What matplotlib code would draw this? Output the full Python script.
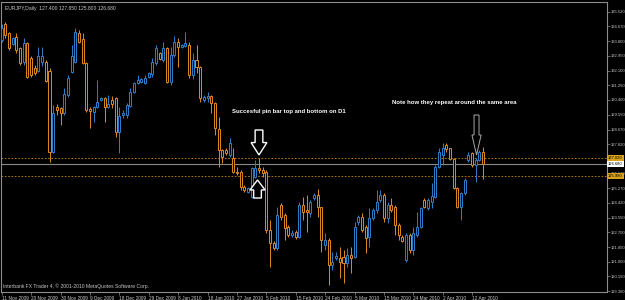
import matplotlib
matplotlib.use("Agg")
import matplotlib.pyplot as plt
from matplotlib.patches import FancyArrow

plt.rcParams['font.family'] = ['Liberation Sans', 'DejaVu Sans']

# EURJPY daily candles (MT4, sunday bars included), first bar = 11 Nov 2009
opens = [133.88, 134.81, 134.28, 133.64, 134.05, 133.41, 132.60, 133.70, 132.83, 132.25,
         132.08, 132.60, 132.60, 132.08, 127.37, 129.99, 129.93, 129.64, 130.68, 132.02,
         132.60, 134.28, 133.93, 132.54, 129.87, 129.70, 129.99, 130.39, 130.51, 129.99,
         130.39, 130.51, 128.53, 129.52, 129.52, 130.04, 130.86, 131.38, 131.44, 131.38,
         131.73, 131.90, 132.54, 133.12, 132.72, 133.41, 131.44, 133.01, 133.76, 133.47,
         133.53, 133.59, 131.84, 132.72, 132.31, 130.39, 130.51, 130.62, 130.22, 128.71,
         127.49, 127.49, 127.20, 127.02, 126.21, 126.21, 125.34, 125.05, 124.76, 125.92,
         126.44, 126.33, 126.21, 122.84, 122.09, 121.80, 124.30, 123.71, 123.02, 122.55,
         122.73, 122.44, 124.30, 124.00, 123.83, 124.70, 124.88, 124.18, 121.97, 122.26,
         120.81, 121.22, 121.22, 121.28, 120.93, 121.39, 121.28, 123.31, 123.60, 123.02,
         122.44, 123.54, 124.00, 124.59, 124.88, 123.54, 124.30, 124.18, 123.13, 122.44,
         121.10, 122.55, 121.68, 122.55, 123.02, 124.59, 124.12, 124.47, 124.76, 126.50,
         127.20, 127.78, 127.61, 126.97, 125.28, 124.18, 124.99, 126.91, 127.31, 126.62,
         126.91, 127.40]
highs = [134.81, 134.92, 134.34, 134.05, 134.28, 133.47, 133.99, 133.76, 132.95, 132.42,
         133.47, 133.47, 132.72, 132.25, 130.10, 130.16, 129.99, 131.09, 131.84, 133.59,
         134.57, 134.46, 134.28, 132.60, 129.99, 130.04, 131.55, 130.57, 130.57, 130.68,
         130.62, 130.57, 129.99, 129.81, 130.22, 131.09, 131.44, 131.84, 131.67, 131.84,
         132.02, 132.83, 133.59, 133.18, 133.76, 133.47, 133.47, 134.11, 133.99, 133.64,
         134.34, 133.76, 133.12, 133.59, 132.37, 130.68, 130.86, 130.68, 130.28, 129.41,
         127.55, 127.61, 128.19, 127.61, 126.50, 126.33, 125.46, 125.34, 126.50, 126.91,
         127.02, 126.50, 126.33, 123.42, 122.20, 124.18, 124.41, 123.83, 123.13, 122.84,
         122.84, 124.47, 124.76, 124.88, 124.59, 124.99, 125.22, 124.18, 122.67, 122.38,
         121.57, 121.57, 121.86, 121.68, 121.80, 121.86, 123.31, 123.71, 123.83, 123.13,
         124.12, 124.12, 125.17, 125.17, 124.99, 124.47, 124.70, 124.30, 123.25, 122.55,
         122.67, 122.67, 123.02, 123.89, 124.18, 124.70, 124.70, 125.57, 126.62, 127.61,
         127.90, 127.90, 127.61, 127.02, 125.34, 125.05, 125.86, 127.37, 127.37, 127.02,
         127.49, 127.65]
lows = [133.76, 133.99, 133.30, 133.59, 133.12, 132.42, 132.42, 131.67, 131.73, 131.84,
        132.02, 132.37, 131.44, 126.79, 127.31, 129.52, 128.94, 129.52, 130.57, 131.96,
        132.54, 133.70, 132.48, 129.70, 128.77, 129.11, 129.93, 130.33, 129.11, 129.93,
        129.93, 128.24, 127.31, 129.35, 129.35, 129.99, 130.80, 131.32, 131.38, 131.32,
        131.67, 131.73, 132.42, 132.72, 132.60, 131.38, 131.26, 132.89, 132.31, 133.41,
        133.47, 131.67, 131.61, 131.96, 130.28, 130.28, 130.28, 129.64, 128.36, 126.50,
        126.73, 127.20, 127.08, 126.15, 126.04, 125.17, 125.05, 124.99, 124.70, 125.86,
        126.15, 125.92, 122.67, 120.69, 121.68, 121.68, 123.42, 122.26, 122.44, 122.44,
        122.32, 122.38, 123.42, 122.73, 123.60, 124.59, 123.60, 121.57, 121.68, 119.65,
        120.52, 121.10, 120.06, 119.77, 120.69, 120.35, 121.22, 123.13, 122.73, 121.51,
        121.86, 123.42, 123.83, 124.47, 123.31, 123.25, 123.89, 122.55, 122.26, 122.15,
        120.99, 121.51, 121.39, 122.44, 122.96, 124.12, 124.00, 124.12, 124.70, 126.44,
        126.62, 127.37, 126.91, 125.22, 124.12, 123.42, 124.88, 126.79, 126.50, 125.63,
        126.85, 125.80]
closes = [134.57, 134.17, 133.41, 133.99, 133.30, 132.54, 133.70, 131.73, 131.84, 131.96,
          132.95, 132.95, 131.50, 127.37, 129.64, 129.81, 129.64, 130.74, 131.67, 132.95,
          134.34, 133.76, 132.54, 129.81, 129.75, 129.99, 130.28, 130.51, 129.99, 130.16,
          130.16, 128.53, 129.46, 129.64, 130.10, 130.86, 131.38, 131.55, 131.61, 131.67,
          131.96, 132.60, 133.41, 132.77, 133.41, 131.44, 133.01, 133.76, 133.47, 133.59,
          133.70, 131.84, 132.72, 132.31, 130.51, 130.57, 130.62, 130.22, 128.77, 127.49,
          127.08, 127.31, 127.90, 126.21, 126.15, 125.34, 125.17, 125.28, 126.44, 126.44,
          126.33, 126.15, 122.84, 122.09, 121.80, 123.71, 123.60, 122.96, 122.55, 122.67,
          122.44, 124.30, 123.89, 123.89, 124.47, 124.88, 124.18, 122.26, 122.26, 120.81,
          120.99, 121.33, 120.99, 120.93, 121.39, 121.22, 123.02, 123.60, 122.84, 122.38,
          123.54, 124.00, 124.47, 124.88, 123.54, 124.30, 124.00, 123.13, 122.55, 122.20,
          122.55, 121.68, 122.67, 123.02, 124.12, 124.18, 124.59, 124.82, 126.50, 127.37,
          127.61, 127.55, 126.97, 125.28, 124.18, 124.99, 125.75, 127.20, 126.62, 126.91,
          127.37, 126.68]

date_labels = ['11 Nov 2009', '20 Nov 2009', '30 Nov 2009', '9 Dec 2009', '18 Dec 2009',
               '29 Dec 2009', '8 Jan 2010', '18 Jan 2010', '27 Jan 2010', '5 Feb 2010',
               '15 Feb 2010', '24 Feb 2010', '5 Mar 2010', '15 Mar 2010', '24 Mar 2010',
               '2 Apr 2010', '12 Apr 2010']
price_ticks = [135.520, 134.670, 133.800, 132.950, 132.100, 131.250, 130.400, 129.550,
               128.670, 127.820, 126.120, 125.270, 124.420, 123.550, 122.700, 121.850,
               121.000, 120.150, 119.300]
levels = [127.020, 125.980]
bid = 126.680

BULL = '#2f7fcc'
BEAR = '#e08a1f'
GRID = '#8c8c8c'
TXT = '#c8c8c8'

fig = plt.figure(figsize=(6.25, 3.0), dpi=100, facecolor='black')
ax = fig.add_axes([1 / 625, 8 / 300, 606 / 625, 290 / 300])
ax.set_facecolor('black')

n = len(opens)
xs = list(range(n))
colors = [BULL if c >= o else BEAR for o, c in zip(opens, closes)]
bottoms = [min(o, c) for o, c in zip(opens, closes)]
heights = [max(abs(c - o), 0.02) for o, c in zip(opens, closes)]

ax.vlines(xs, lows, highs, colors=colors, linewidth=0.7, zorder=3)
ax.bar(xs, heights, bottom=bottoms, width=0.55, facecolor='black',
       edgecolor=colors, linewidth=0.7, zorder=4)

# stop levels + bid line
for lv in levels:
    ax.axhline(lv, color='#c98a1a', linewidth=0.6, linestyle=(0, (2, 2)), zorder=2)
ax.axhline(bid, color='#8a8a8a', linewidth=0.8, zorder=2)

ax.set_xlim(-0.2, 164.7)
ax.set_ylim(119.243, 136.083)

for side in ['left', 'right', 'top', 'bottom']:
    ax.spines[side].set_color(GRID)
    ax.spines[side].set_linewidth(0.8)

ax.yaxis.tick_right()
ax.set_yticks(price_ticks)
ax.set_yticklabels(['%.3f' % p for p in price_ticks])
ax.tick_params(axis='y', colors=GRID, labelcolor=TXT, labelsize=3.0, length=2,
               width=0.5, pad=1.0)

ax.set_xticks([8 * i for i in range(len(date_labels))])
ax.set_xticklabels(date_labels, ha='left')
ax.tick_params(axis='x', colors=GRID, labelcolor=TXT, labelsize=3.4, length=2,
               width=0.5, pad=1.0)

# price boxes on the right scale
ytr = ax.get_yaxis_transform()
for lv in levels:
    ax.text(1.002, lv, '%.3f' % lv, transform=ytr, fontsize=3.0, color='black',
            va='center', ha='left', zorder=10, clip_on=False,
            bbox=dict(boxstyle='square,pad=0.3', fc='#d9a21b', ec='none'))
ax.text(1.002, bid, '%.3f' % bid, transform=ytr, fontsize=3.0, color='black',
        va='center', ha='left', zorder=10, clip_on=False,
        bbox=dict(boxstyle='square,pad=0.3', fc='white', ec='none'))

# header / footer
ax.text(0.006, 0.985, 'EURJPY,Daily  %.3f %.3f %.3f %.3f' % (opens[-1], highs[-1], lows[-1], closes[-1]),
        transform=ax.transAxes, fontsize=3.6, color=TXT, va='top', ha='left')
ax.text(0.004, 0.012, 'Interbank FX Trader 4, \u00a9 2001-2010 MetaQuotes Software Corp.',
        transform=ax.transAxes, fontsize=3.6, color=TXT, va='bottom', ha='left')

# annotations
ax.text(62.7, 129.70, 'Succesful pin bar top and bottom on D1', color='white',
        fontsize=4.3, fontweight='bold', va='center', ha='left')
ax.text(106.2, 130.22, 'Note how they repeat around the same area', color='white',
        fontsize=4.3, fontweight='bold', va='center', ha='left')

ax.add_patch(FancyArrow(70.0, 128.65, 0, -1.45, width=2.1, head_width=4.3,
                        head_length=0.72, length_includes_head=True,
                        fc='black', ec='white', linewidth=1.0, zorder=6))
ax.add_patch(FancyArrow(69.6, 124.70, 0, 1.05, width=2.1, head_width=4.1,
                        head_length=0.58, length_includes_head=True,
                        fc='black', ec='white', linewidth=1.0, zorder=6))
ax.add_patch(FancyArrow(129.2, 129.52, 0, -2.32, width=1.35, head_width=2.5,
                        head_length=1.16, length_includes_head=True,
                        fc='black', ec='#a8a8a8', linewidth=0.7, zorder=6))

fig.savefig('out.png', dpi=100, facecolor='black')
